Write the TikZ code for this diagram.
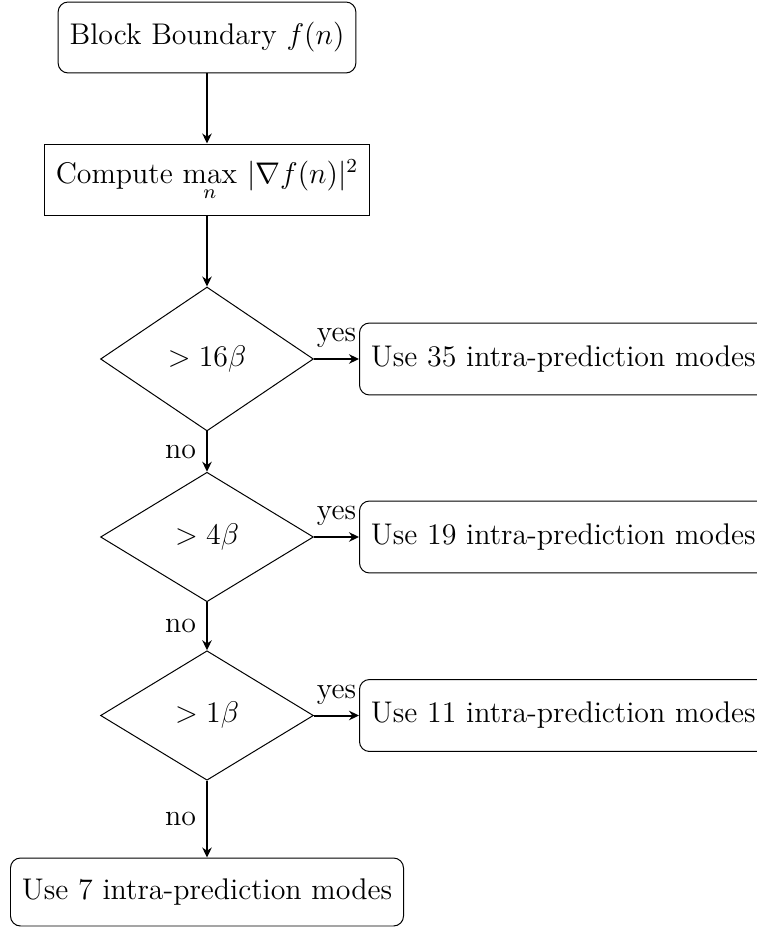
\documentclass[12pt,tikz,border=0pt]{standalone}
\usetikzlibrary{shapes.geometric, arrows.meta}

\tikzset{
  roundbox/.style={draw, rounded corners=4pt, inner xsep=4.6pt, minimum height=28.9pt},
  plainbox/.style={draw, inner xsep=4.6pt, minimum height=28.9pt},
  test/.style={draw, diamond, inner sep=0pt, minimum width=85.5pt},
  arr/.style={thick, -{Stealth[length=4pt, width=3.8pt, inset=1.3pt]}},
}

\begin{document}
\begin{tikzpicture}[x=0.40161pt, y=-0.40161pt]
  \useasboundingbox (0,0) rectangle (757,927);

  % main column
  \node[roundbox, minimum width=119.3pt, minimum height=28.5pt] (start) at (207,37.5) {Block Boundary $f(n)$};
  \node[plainbox, minimum width=129.7pt] (grad) at (207,180) {Compute $\max\limits_{n}\,|\nabla f(n)|^2$};
  \node[test, minimum height=57.8pt] (t16) at (207,359) {$>16\beta$};
  \node[test, minimum height=52pt] (t4) at (207,537) {$>4\beta$};
  \node[test, minimum height=52pt] (t1) at (207,715.5) {$>1\beta$};
  \node[roundbox, minimum width=157.7pt, minimum height=27.3pt] (m7) at (207,892) {Use 7 intra-prediction modes};

  % outcomes on the right
  \node[roundbox, anchor=west] (m35) at (359,359) {Use 35 intra-prediction modes};
  \node[roundbox, anchor=west] (m19) at (359,537) {Use 19 intra-prediction modes};
  \node[roundbox, anchor=west] (m11) at (359,715.5) {Use 11 intra-prediction modes};

  % connectors
  \draw[arr] (start) -- (grad);
  \draw[arr] (grad) -- (t16);
  \draw[arr] (t16) -- node[left] {no} (t4);
  \draw[arr] (t4) -- node[left] {no} (t1);
  \draw[arr] (t1) -- node[left] {no} (m7);
  \draw[arr] (t16.east) -- node[above] {yes} (m35.west);
  \draw[arr] (t4.east) -- node[above] {yes} (m19.west);
  \draw[arr] (t1.east) -- node[above] {yes} (m11.west);
\end{tikzpicture}
\end{document}
